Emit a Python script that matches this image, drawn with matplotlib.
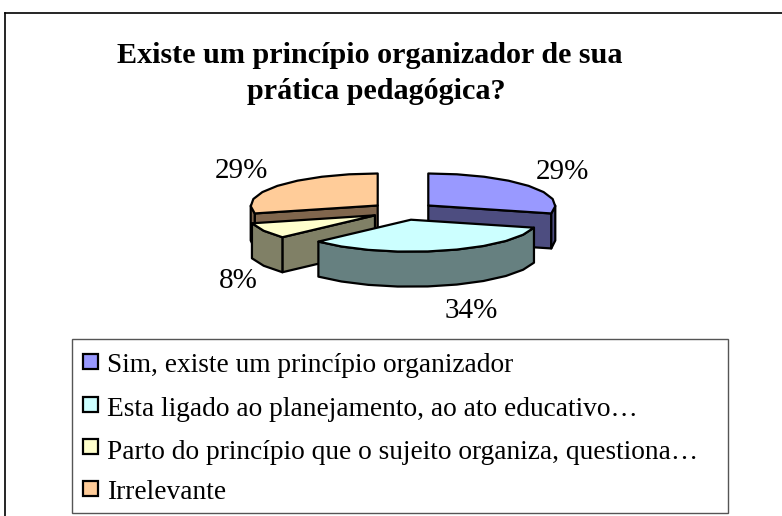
import numpy as np
import matplotlib
matplotlib.use("Agg")
import matplotlib.pyplot as plt
from matplotlib.patches import Polygon, Rectangle

plt.rcParams['font.family'] = ['Liberation Serif', 'DejaVu Serif']

# datos del grafico
title_lines = ["Existe um princípio organizador de sua", "prática pedagógica?"]
categories = ["Sim, existe um princípio organizador",
              "Esta ligado ao planejamento, ao ato educativo…",
              "Parto do princípio que o sujeito organiza, questiona…",
              "Irrelevante"]
values = [29, 34, 8, 29]
colors = ["#9999FF", "#CCFFFF", "#FFFFCC", "#FFCC99"]
dark_colors = ["#4D4D80", "#668080", "#808066", "#80664D"]

# geometria del pie en pixeles
cx, cy = 403, 211
rx, ry = 127, 32
depth = 35
explode_x, explode_y = 32, 9
step = 13  # grados, el borde original se ve poligonal

fig = plt.figure(figsize=(7.82, 5.16), dpi=100)
ax = fig.add_axes([0, 0, 1, 1])
ax.set_xlim(0, 782)
ax.set_ylim(516, 0)
ax.axis("off")


def rim(ox, oy, a0, a1):
    n = max(int(round((a1 - a0) / step)), 1)
    t = np.radians(np.linspace(a0, a1, n + 1))
    return np.column_stack((ox + rx * np.sin(t), oy - ry * np.cos(t)))


def shade(pts, color):
    ax.add_patch(Polygon(pts, closed=True, facecolor=color, edgecolor="black",
                         linewidth=1.6, joinstyle="round"))


total = sum(values)
edges = np.concatenate(([0], np.cumsum(values) / total * 360))

# pintar de atras hacia adelante
for i in [0, 3, 2, 1]:
    a0, a1 = edges[i], edges[i + 1]
    mid = np.radians((a0 + a1) / 2)
    ox = cx + explode_x * np.sin(mid)
    oy = cy - explode_y * np.cos(mid)
    down = np.array([0, depth])
    apex = np.array([ox, oy])

    # caras internas visibles
    if np.cos(np.radians(a0 - 90)) < -1e-6:
        p = rim(ox, oy, a0, a0)[0]
        shade([apex, p, p + down, apex + down], dark_colors[i])
    if np.cos(np.radians(a1 + 90)) < -1e-6:
        p = rim(ox, oy, a1, a1)[0]
        shade([apex, p, p + down, apex + down], dark_colors[i])

    # borde exterior (solo la mitad de abajo)
    lo, hi = max(a0, 90), min(a1, 270)
    if hi > lo:
        r = rim(ox, oy, lo, hi)
        shade(np.vstack((r, (r + down)[::-1])), dark_colors[i])

    # tapa
    shade(np.vstack((apex, rim(ox, oy, a0, a1))), colors[i])

# etiquetas de porcentaje
pct_pos = [(562, 179), (471, 318), (238, 288), (241, 178)]
for v, (x, y) in zip(values, pct_pos):
    ax.text(x, y, f"{v}%", fontsize=21, ha="center", va="baseline", color="black")

# titulo
ax.text(369.5, 63, title_lines[0], fontsize=21.7, fontweight="bold", ha="center", va="baseline")
ax.text(376, 99, title_lines[1], fontsize=21.7, fontweight="bold", ha="center", va="baseline")

# marco exterior
ax.plot([5, 5], [516, 13], color="black", lw=1.2)
ax.plot([5, 782], [13, 13], color="black", lw=1.2)

# leyenda
ax.add_patch(Rectangle((72, 339), 656, 174, facecolor="white", edgecolor="#555555", lw=1))
legend_y = [372, 416, 459, 499]
swatch_y = [354, 397, 439, 481]
for name, col, y, sy in zip(categories, colors, legend_y, swatch_y):
    ax.add_patch(Rectangle((83, sy), 15, 15, facecolor=col, edgecolor="black", lw=1.6))
    ax.text(107, y, name, fontsize=19.7, ha="left", va="baseline", color="black")

fig.savefig("out.png", dpi=100)
